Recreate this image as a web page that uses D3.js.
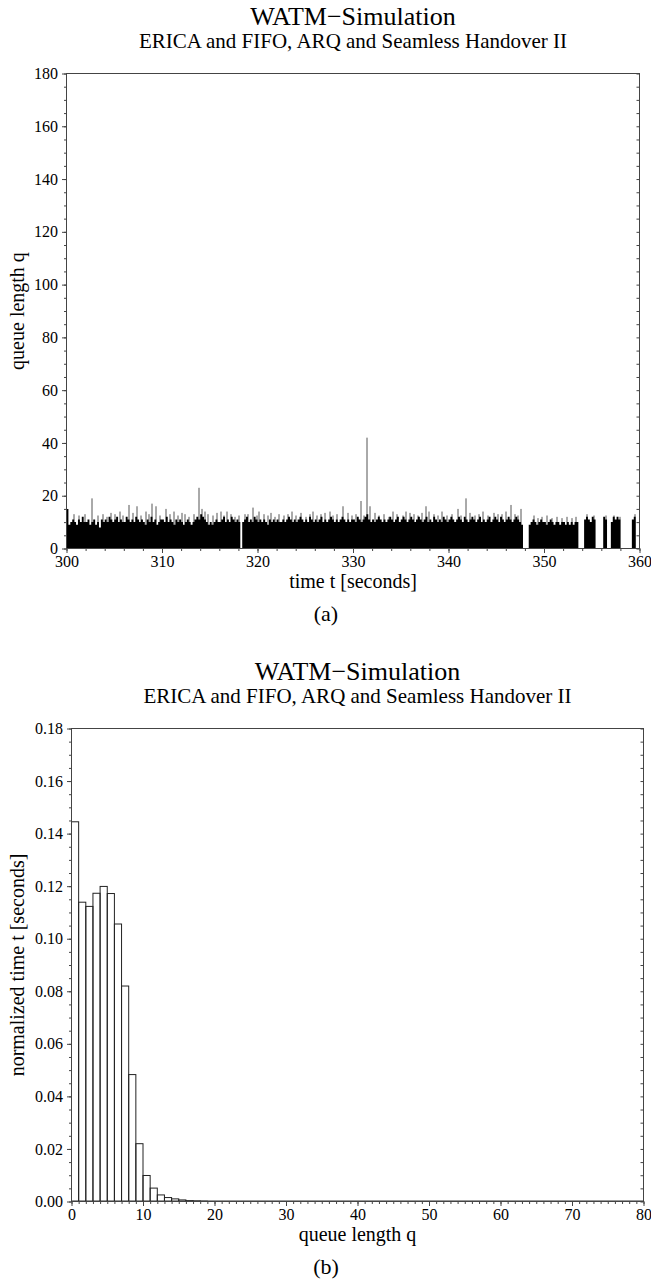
<!DOCTYPE html>
<html>
<head>
<meta charset="utf-8">
<script src="https://cdn.jsdelivr.net/npm/d3@7"></script>
<style>
  body { margin: 0; background: #fff; }
</style>
</head>
<body>
<div id="chart"></div>
<script>
// ---- data ----
const chartTitle = "WATM\u2212Simulation";
const chartSubtitle = "ERICA and FIFO, ARQ and Seamless Handover II";

// (a) queue length, sampled every 0.2 s from t = 300 s (one row = 2 s)
const seriesStart = 300;
const seriesStep = 0.2;
const queueLength = [
  15, 9, 10, 11, 10, 9, 11, 10, 12, 10,
  10, 11, 9, 10, 11, 9, 10, 8, 11, 10,
  11, 10, 12, 11, 10, 11, 12, 10, 11, 10,
  10, 12, 11, 10, 11, 10, 12, 11, 10, 11,
  10, 9, 11, 10, 12, 10, 11, 9, 10, 11,
  11, 10, 12, 10, 11, 10, 9, 11, 10, 11,
  10, 9, 10, 11, 10, 9, 10, 11, 12, 11,
  13, 12, 11, 10, 9, 10, 9, 10, 11, 10,
  10, 11, 12, 10, 11, 10, 12, 11, 10, 11,
  10, 0, 10, 11, 12, 10, 11, 10, 12, 11,
  10, 11, 10, 11, 10, 9, 11, 10, 11, 10,
  11, 10, 10, 11, 10, 11, 12, 11, 10, 11,
  10, 11, 12, 11, 10, 11, 10, 12, 11, 10,
  11, 10, 11, 12, 10, 11, 10, 11, 12, 11,
  10, 11, 10, 11, 12, 11, 10, 11, 10, 11,
  11, 10, 12, 11, 10, 11, 12, 13, 11, 10,
  11, 10, 11, 12, 11, 10, 11, 10, 11, 12,
  11, 10, 11, 12, 10, 11, 12, 11, 10, 11,
  12, 11, 10, 11, 12, 11, 10, 11, 12, 10,
  11, 10, 12, 11, 10, 11, 10, 12, 11, 10,
  11, 12, 11, 10, 11, 12, 11, 10, 12, 11,
  10, 11, 12, 11, 10, 11, 12, 10, 11, 10,
  11, 12, 10, 11, 12, 11, 10, 12, 11, 10,
  11, 12, 11, 10, 11, 12, 11, 10, 9, 0,
  0, 0, 9, 10, 11, 10, 9, 10, 11, 10,
  10, 9, 10, 11, 10, 9, 10, 10, 9, 10,
  10, 9, 10, 9, 10, 9, 10, 10, 0, 0,
  0, 11, 12, 11, 10, 12, 11, 0, 0, 0,
  0, 12, 11, 0, 0, 10, 12, 11, 12, 11,
  0, 0, 0, 0, 0, 0, 11, 12, 0, 0
];
const seriesEnd = 360;

// (a) single samples standing above the dense band: [time, queue length]
const queueSpikes = [
  [300.05, 15], [300.7, 13], [301.3, 12.5], [301.9, 13], [302.65, 19],
  [303.2, 12.5], [303.8, 13], [304.2, 12], [304.6, 13.5], [305.0, 13],
  [305.5, 14], [305.9, 12.5], [306.5, 16.5], [306.9, 13.5], [307.3, 16],
  [307.7, 12.5], [308.3, 14], [308.6, 13], [308.9, 17], [309.3, 16],
  [309.7, 12.5], [310.4, 15], [310.8, 13], [311.2, 14], [311.6, 12.5],
  [312.0, 13.5], [312.4, 13], [312.8, 12], [313.3, 13], [313.85, 23],
  [314.1, 15], [314.5, 14], [314.8, 13], [315.3, 12.5], [315.7, 13.5],
  [316.1, 14], [316.4, 12.5], [316.8, 14], [317.2, 13], [317.6, 12],
  [318.0, 12.5], [318.6, 13], [319.0, 13], [319.5, 15.5], [319.9, 12.5],
  [320.1, 14], [320.6, 13], [321.0, 12.5], [321.4, 13.5], [321.8, 12],
  [322.2, 13], [322.7, 12.5], [323.1, 13], [323.6, 14], [324.0, 12.5],
  [324.5, 13.5], [325.0, 12], [325.4, 13], [325.8, 14], [326.2, 12.5],
  [326.6, 13], [327.0, 13.5], [327.5, 14], [327.9, 12.5], [328.3, 13],
  [328.9, 16], [329.4, 13.5], [329.8, 12.5], [330.3, 13], [330.8, 18],
  [331.1, 12.5], [331.45, 42], [331.7, 16], [332.2, 13.5], [332.7, 12.5],
  [333.2, 13], [333.7, 12], [334.1, 14], [334.6, 13], [335.2, 12.5],
  [335.5, 14], [335.9, 13.5], [336.3, 13], [336.8, 12.5], [337.2, 13.5],
  [337.6, 16], [337.9, 14], [338.4, 13], [338.9, 12.5], [339.3, 14],
  [339.8, 12.5], [340.3, 13], [340.9, 15], [341.3, 12.5], [341.8, 19],
  [342.2, 13.5], [342.7, 12.5], [343.1, 13], [343.6, 14], [344.1, 12.5],
  [344.7, 13.5], [345.1, 13], [345.6, 13], [346.0, 14], [346.5, 16.5],
  [346.9, 13], [347.2, 12.5], [347.5, 15], [348.9, 12.5], [349.3, 11.5],
  [349.7, 12], [350.3, 12.5], [350.8, 11.5], [351.3, 12], [351.8, 11.5],
  [352.4, 12], [352.9, 11.5], [353.3, 12], [354.5, 13], [355.2, 12.5],
  [356.4, 12.5], [357.3, 12.5], [357.95, 12], [359.5, 13]
];

// (b) histogram: queue length bin -> normalized time
const histBins = [0, 1, 2, 3, 4, 5, 6, 7, 8, 9, 10, 11, 12, 13, 14, 15, 16, 17, 18];
const histHeights = [
  0.1445, 0.1139, 0.1123, 0.1173, 0.1199, 0.1172, 0.1056, 0.0820, 0.0483, 0.0220,
  0.0099, 0.0051, 0.0025, 0.0015, 0.0010, 0.0006, 0.0003, 0.0002, 0.0001
];

// tick values
const timeTicks = [300, 310, 320, 330, 340, 350, 360];
const timeMinorTicks = d3.range(300, 361, 2);
const queueTicks = [0, 20, 40, 60, 80, 100, 120, 140, 160, 180];
const queueMinorTicks = d3.range(0, 181, 5);
const binTicks = [0, 10, 20, 30, 40, 50, 60, 70, 80];
const binMinorTicks = d3.range(0, 81, 1);
const fractionTicks = [0, 0.02, 0.04, 0.06, 0.08, 0.1, 0.12, 0.14, 0.16, 0.18];
const fractionMinorTicks = d3.range(0, 37).map((i) => i * 0.005);

// ---- drawing ----
const SERIF = '"Liberation Serif", "Times New Roman", Times, serif';
const AXIS_COLOR = "#444";
const MARK_COLOR = "#222";

const svg = d3
  .select("#chart")
  .append("svg")
  .attr("width", 651)
  .attr("height", 1279)
  .style("background", "#fff");

function styleAxis(sel) {
  sel.attr("font-family", SERIF).attr("font-size", 16).attr("color", AXIS_COLOR);
  sel.select(".domain").remove();
  sel.selectAll(".tick text").attr("fill", "#000");
}

function drawPanel(cfg) {
  const x = d3.scaleLinear().domain(cfg.xDomain).range([0, cfg.width]);
  const y = d3.scaleLinear().domain(cfg.yDomain).range([cfg.height, 0]);
  const cx = cfg.left + cfg.width / 2;

  svg.append("text")
    .attr("x", cx).attr("y", cfg.top - 49)
    .attr("text-anchor", "middle")
    .attr("font-family", SERIF).attr("font-size", 26)
    .text(chartTitle);

  svg.append("text")
    .attr("x", cx).attr("y", cfg.top - 26)
    .attr("text-anchor", "middle")
    .attr("font-family", SERIF).attr("font-size", 21)
    .text(chartSubtitle);

  const g = svg.append("g").attr("transform", `translate(${cfg.left},${cfg.top})`);
  const marks = g.append("g");

  // minor ticks first, majors on top
  g.append("g").attr("transform", `translate(0,${cfg.height})`)
    .call(d3.axisBottom(x).tickValues(cfg.xMinor).tickSize(2.5).tickFormat(""))
    .call(styleAxis);
  g.append("g").attr("transform", `translate(0,${cfg.height})`)
    .call(d3.axisBottom(x).tickValues(cfg.xTicks).tickSize(4.5).tickPadding(3).tickFormat(d3.format("d")))
    .call(styleAxis);

  g.append("g")
    .call(d3.axisLeft(y).tickValues(cfg.yMinor).tickSize(2.5).tickFormat(""))
    .call(styleAxis);
  g.append("g")
    .call(d3.axisLeft(y).tickValues(cfg.yTicks).tickSize(4.5).tickPadding(4).tickFormat(cfg.yFormat))
    .call(styleAxis);

  g.append("g").attr("transform", `translate(${cfg.width},0)`)
    .call(d3.axisRight(y).tickValues(cfg.yMinor).tickSize(-3).tickFormat(""))
    .call(styleAxis);

  g.append("rect")
    .attr("width", cfg.width).attr("height", cfg.height)
    .attr("fill", "none").attr("stroke", AXIS_COLOR).attr("stroke-width", 1);

  svg.append("text")
    .attr("x", cx).attr("y", cfg.top + cfg.height + 39)
    .attr("text-anchor", "middle")
    .attr("font-family", SERIF).attr("font-size", 20)
    .text(cfg.xLabel);

  svg.append("text")
    .attr("transform", `translate(24,${cfg.top + cfg.height / 2}) rotate(-90)`)
    .attr("text-anchor", "middle")
    .attr("font-family", SERIF).attr("font-size", 20)
    .text(cfg.yLabel);

  svg.append("text")
    .attr("x", 326).attr("y", cfg.top + cfg.height + 72)
    .attr("text-anchor", "middle")
    .attr("font-family", SERIF).attr("font-size", 22)
    .text(cfg.tag);

  return { g, marks, x, y };
}

// (a) queue length over time
const panelA = drawPanel({
  left: 66.5, top: 73.5, width: 573, height: 475,
  xDomain: [300, 360], yDomain: [0, 180],
  xTicks: timeTicks, xMinor: timeMinorTicks,
  yTicks: queueTicks, yMinor: queueMinorTicks,
  yFormat: d3.format("d"),
  xLabel: "time t [seconds]", yLabel: "queue length q", tag: "(a)"
});

// thin spikes go underneath, so the dense band stays solid black
panelA.marks.selectAll("line.spike")
  .data(queueSpikes)
  .enter()
  .append("line")
  .attr("class", "spike")
  .attr("x1", (d) => Math.round(panelA.x(d[0])) + 0.5)
  .attr("x2", (d) => Math.round(panelA.x(d[0])) + 0.5)
  .attr("y1", panelA.y(0))
  .attr("y2", (d) => panelA.y(d[1]))
  .attr("stroke", "#555")
  .attr("stroke-width", 1);

const samples = queueLength.map((q, i) => ({ t: seriesStart + i * seriesStep, q }));
samples.push({ t: seriesEnd, q: queueLength[queueLength.length - 1] });

panelA.marks.append("path")
  .datum(samples)
  .attr("fill", "#000")
  .attr("d", d3.area()
    .curve(d3.curveStepAfter)
    .x((d) => panelA.x(d.t))
    .y0(panelA.y(0))
    .y1((d) => panelA.y(d.q)));

// (b) histogram of queue length
const panelB = drawPanel({
  left: 71.5, top: 728.5, width: 572, height: 473,
  xDomain: [0, 80], yDomain: [0, 0.18],
  xTicks: binTicks, xMinor: binMinorTicks,
  yTicks: fractionTicks, yMinor: fractionMinorTicks,
  yFormat: d3.format(".2f"),
  xLabel: "queue length q", yLabel: "normalized time t [seconds]", tag: "(b)"
});

// empty bins lie on the baseline and thicken it
panelB.marks.append("line")
  .attr("x1", panelB.x(0)).attr("x2", panelB.x(80))
  .attr("y1", panelB.y(0) - 0.5).attr("y2", panelB.y(0) - 0.5)
  .attr("stroke", "#999").attr("stroke-width", 2);

panelB.marks.selectAll("rect.bin")
  .data(histBins)
  .enter()
  .append("rect")
  .attr("class", "bin")
  .attr("x", (d) => panelB.x(d))
  .attr("y", (d, i) => panelB.y(histHeights[i]))
  .attr("width", (d) => panelB.x(d + 1) - panelB.x(d))
  .attr("height", (d, i) => panelB.y(0) - panelB.y(histHeights[i]))
  .attr("fill", "none")
  .attr("stroke", MARK_COLOR)
  .attr("stroke-width", 1);
</script>
</body>
</html>
